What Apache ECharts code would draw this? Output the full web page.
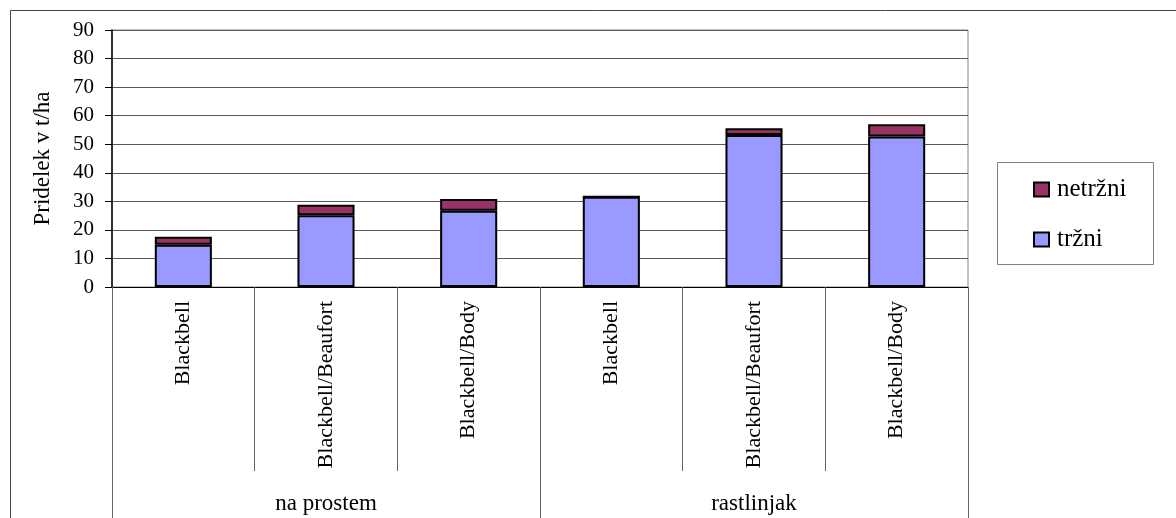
<!DOCTYPE html>
<html>
<head>
<meta charset="utf-8">
<script src="https://cdn.jsdelivr.net/npm/echarts@6/dist/echarts.min.js"></script>
<style>html,body{margin:0;padding:0;background:#fff;}#c{width:1176px;height:518px;}</style>
</head>
<body>
<div id="c"></div>
<script>
var categories = ['Blackbell','Blackbell/Beaufort','Blackbell/Body','Blackbell','Blackbell/Beaufort','Blackbell/Body'];
var groups = ['na prostem','rastlinjak'];
var trzni = [14.8, 25.1, 26.7, 31.6, 53.2, 52.7];
var netrzni = [2.8, 3.7, 4.1, 0, 2.4, 4.3];
var seriesNames = ['tržni','netržni'];
var yAxisTitle = 'Pridelek v t/ha';

var FONT = '"Liberation Serif", "Times New Roman", serif';
var chart = echarts.init(document.getElementById('c'), null, {renderer:'canvas'});
chart.setOption({
  animation: false,
  backgroundColor: '#fff',
  graphic: [
    {type:'rect', shape:{x:10.5,y:10.5,width:1200,height:600}, style:{fill:'none',stroke:'#444',lineWidth:1}, silent:true, z:-1},
    {type:'rect', shape:{x:997.5,y:162.5,width:156,height:102}, style:{fill:'#fff',stroke:'#808080',lineWidth:1}, silent:true, z:0}
  ],
  grid: {left:112, top:30, right:208, bottom:231, show:true, borderColor:'#888', borderWidth:1, backgroundColor:'transparent'},
  legend: {
    data: ['netržni','tržni'],
    orient: 'vertical',
    left: 1033, top: 177,
    padding: 0,
    itemWidth: 15, itemHeight: 14,
    itemGap: 25,
    icon: 'rect',
    z: 5,
    textStyle: {fontFamily: FONT, fontSize: 25, color:'#000', lineHeight: 24, padding:[0,0,0,3]}
  },
  xAxis: [
    {
      type:'category', data: categories, position:'bottom',
      axisLine:{show:true, lineStyle:{color:'#000', width:1}},
      axisTick:{show:true, interval:0, length:184, lineStyle:{color:'#666', width:1}},
      axisLabel:{interval:0, rotate:90, margin:14, fontFamily:FONT, fontSize:22, color:'#000'}
    },
    {
      type:'category', data: groups, position:'bottom', offset:0,
      axisLine:{show:false},
      axisTick:{show:true, interval:0, length:240, lineStyle:{color:'#666', width:1}},
      axisLabel:{interval:0, margin:205, fontFamily:FONT, fontSize:23, color:'#000'}
    }
  ],
  yAxis: {
    type:'value', min:0, max:90, interval:10,
    name: yAxisTitle, nameLocation:'middle', nameGap:58, nameRotate:90,
    nameTextStyle:{fontFamily:FONT, fontSize:23, color:'#000'},
    axisLine:{show:true, lineStyle:{color:'#000', width:1.5}},
    axisTick:{show:true, length:7, lineStyle:{color:'#000'}},
    axisLabel:{margin:18, fontFamily:FONT, fontSize:21, color:'#000'},
    splitLine:{show:true, lineStyle:{color:'#5a5a5a', width:1}}
  },
  series: [
    {name:seriesNames[0], type:'bar', stack:'s', xAxisIndex:0, data:trzni, barWidth:'40%',
     itemStyle:{color:'#9999FF', borderColor:'#000', borderWidth:2}},
    {name:seriesNames[1], type:'bar', stack:'s', xAxisIndex:0, data:netrzni, barWidth:'40%',
     itemStyle:{color:'#993366', borderColor:'#000', borderWidth:2}}
  ]
});
</script>
</body>
</html>
